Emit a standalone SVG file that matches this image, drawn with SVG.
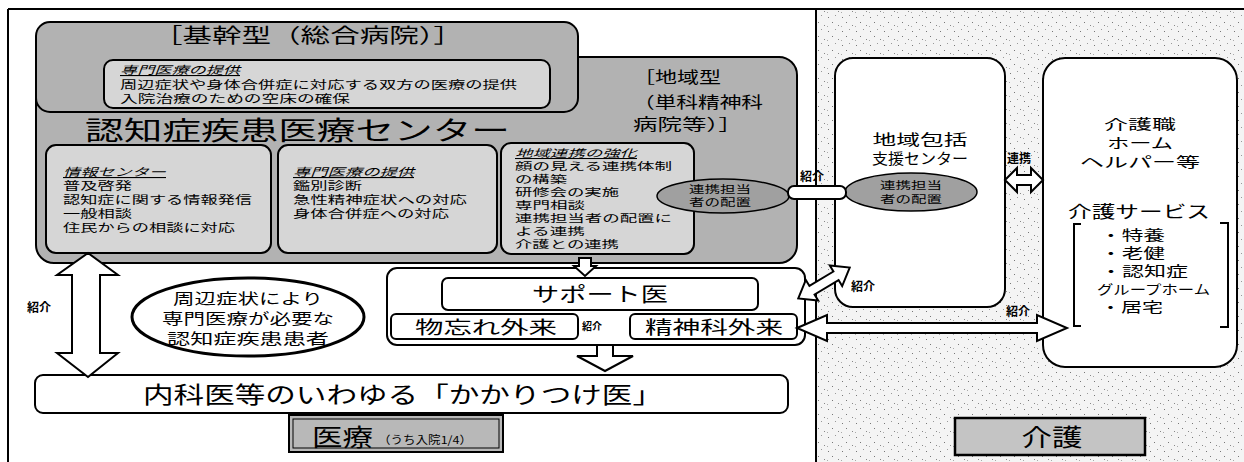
<svg xmlns="http://www.w3.org/2000/svg" width="1244" height="462" viewBox="0 0 1244 462">
<defs>
<pattern id="stip" width="14" height="14" patternUnits="userSpaceOnUse">
<rect width="14" height="14" fill="#f4f4f4"/>
<rect x="2" y="3" width="1" height="1" fill="#777"/>
<rect x="9" y="1" width="1" height="1" fill="#999"/>
<rect x="6" y="8" width="1" height="1" fill="#777"/>
<rect x="12" y="11" width="1" height="1" fill="#888"/>
<rect x="1" y="12" width="1" height="1" fill="#aaa"/>
</pattern>
<style>
text{font-family:"Noto Sans CJK JP","Noto Sans CJK SC",sans-serif;fill:#000;}
.bx{stroke:#000;stroke-width:2;}
.dk{fill:#b2b2b2;}
.lt{fill:#d6d6d6;}
.wh{fill:#fff;}
.el{fill:#a0a0a0;stroke:#000;stroke-width:1.5;}
.ar{fill:#fff;stroke:#000;stroke-width:2;stroke-linejoin:miter;}
.s{font-size:11px;}
.u{font-style:italic;text-decoration:underline;}
.lb{font-size:12px;font-weight:bold;}
.m{font-size:14px;}
.c{text-anchor:middle;}
</style>
</defs>
<rect x="0" y="0" width="1244" height="462" fill="#fff"/>
<rect x="817" y="9" width="427" height="453" fill="url(#stip)"/>
<g id="frame" fill="none" stroke="#000">
<line x1="8" y1="9" x2="1244" y2="9" stroke-width="2"/>
<line x1="8" y1="9" x2="8" y2="462" stroke-width="2"/>
<line x1="816" y1="9" x2="816" y2="462" stroke-width="2"/>
</g>

<g id="chiiki">
<rect class="bx dk" x="36" y="57" width="761" height="206" rx="18"/>
<text font-size="16"><tspan x="633" y="83" textLength="88" lengthAdjust="spacingAndGlyphs">［地域型</tspan><tspan x="633" y="108" textLength="130" lengthAdjust="spacingAndGlyphs">（単科精神科</tspan><tspan x="633" y="130" textLength="110" lengthAdjust="spacingAndGlyphs">病院等）］</tspan></text>
</g>
<g id="kikan">
<rect class="bx dk" x="36" y="22" width="542" height="90" rx="14"/>
<text x="153" y="43" font-size="20" textLength="310" lengthAdjust="spacingAndGlyphs">［基幹型（総合病院）］</text>
<rect class="bx lt" x="104" y="60" width="446" height="48" rx="9"/>
<text class="s"><tspan class="u" x="120" y="74" textLength="120" lengthAdjust="spacingAndGlyphs">専門医療の提供</tspan><tspan x="120" y="89" textLength="397" lengthAdjust="spacingAndGlyphs">周辺症状や身体合併症に対応する双方の医療の提供</tspan><tspan x="120" y="103" textLength="230" lengthAdjust="spacingAndGlyphs">入院治療のための空床の確保</tspan></text>
</g>
<g id="center-title">
<text x="85" y="140" font-size="26" textLength="425" lengthAdjust="spacingAndGlyphs">認知症疾患医療センター</text>
</g>
<g id="joho">
<rect class="bx lt" x="46" y="145" width="225" height="108" rx="10"/>
<text class="s"><tspan class="u" x="63" y="176" textLength="103" lengthAdjust="spacingAndGlyphs">情報センター</tspan><tspan x="63" y="190" textLength="69" lengthAdjust="spacingAndGlyphs">普及啓発</tspan><tspan x="63" y="204" textLength="189" lengthAdjust="spacingAndGlyphs">認知症に関する情報発信</tspan><tspan x="63" y="218" textLength="69" lengthAdjust="spacingAndGlyphs">一般相談</tspan><tspan x="63" y="232" textLength="172" lengthAdjust="spacingAndGlyphs">住民からの相談に対応</tspan></text>
</g>
<g id="senmon">
<rect class="bx lt" x="278" y="145" width="219" height="108" rx="10"/>
<text class="s"><tspan class="u" x="293" y="176" textLength="121" lengthAdjust="spacingAndGlyphs">専門医療の提供</tspan><tspan x="293" y="190" textLength="69" lengthAdjust="spacingAndGlyphs">鑑別診断</tspan><tspan x="293" y="204" textLength="174" lengthAdjust="spacingAndGlyphs">急性精神症状への対応</tspan><tspan x="293" y="218" textLength="156" lengthAdjust="spacingAndGlyphs">身体合併症への対応</tspan></text>
</g>
<g id="renkei-kyoka">
<rect class="bx lt" x="501" y="143" width="193" height="111" rx="10"/>
<text font-size="10.5px"><tspan class="u" x="515" y="157" textLength="122" lengthAdjust="spacingAndGlyphs">地域連携の強化</tspan><tspan x="515" y="170" textLength="157" lengthAdjust="spacingAndGlyphs">顔の見える連携体制</tspan><tspan x="515" y="183" textLength="52" lengthAdjust="spacingAndGlyphs">の構築</tspan><tspan x="515" y="196" textLength="104" lengthAdjust="spacingAndGlyphs">研修会の実施</tspan><tspan x="515" y="209" textLength="70" lengthAdjust="spacingAndGlyphs">専門相談</tspan><tspan x="515" y="222" textLength="157" lengthAdjust="spacingAndGlyphs">連携担当者の配置に</tspan><tspan x="515" y="235" textLength="70" lengthAdjust="spacingAndGlyphs">よる連携</tspan><tspan x="515" y="248" textLength="104" lengthAdjust="spacingAndGlyphs">介護との連携</tspan></text>
</g>
<g id="tanto-1">
<ellipse class="el" cx="723" cy="196" rx="66" ry="17"/>
<text class="c" font-size="10.5"><tspan x="720" y="193" textLength="62" lengthAdjust="spacingAndGlyphs">連携担当</tspan><tspan x="720" y="206" textLength="62" lengthAdjust="spacingAndGlyphs">者の配置</tspan></text>
</g>

<g id="kanja">
<ellipse cx="248" cy="317" rx="116" ry="39" fill="#fff" stroke="#000" stroke-width="3"/>
<text class="c" font-size="14.5"><tspan x="248" y="304" textLength="150" lengthAdjust="spacingAndGlyphs">周辺症状により</tspan><tspan x="248" y="324" textLength="172" lengthAdjust="spacingAndGlyphs">専門医療が必要な</tspan><tspan x="248" y="344" textLength="162" lengthAdjust="spacingAndGlyphs">認知症疾患患者</tspan></text>
</g>
<g id="support-group">
<rect class="bx wh" x="387" y="268" width="418" height="77" rx="10"/>
</g>
<g id="support">
<rect class="bx wh" x="442" y="278" width="316" height="32" rx="6"/>
<text class="c" x="600" y="302" font-size="20" textLength="136" lengthAdjust="spacingAndGlyphs">サポート医</text>
</g>
<g id="monowasure">
<rect class="bx wh" x="391" y="314" width="187" height="25" rx="5"/>
<text class="c" x="486" y="334" font-size="18" textLength="142" lengthAdjust="spacingAndGlyphs">物忘れ外来</text>
</g>
<g id="seishin">
<rect class="bx wh" x="630" y="314" width="167" height="25" rx="5"/>
<text class="c" x="714" y="334" font-size="18" textLength="138" lengthAdjust="spacingAndGlyphs">精神科外来</text>
</g>
<g id="kakaritsuke">
<rect class="bx wh" x="35" y="375" width="753" height="38" rx="8"/>
<text x="143" y="403" font-size="23" textLength="520" lengthAdjust="spacingAndGlyphs">内科医等のいわゆる「かかりつけ医」</text>
</g>
<g id="iryo-label">
<rect x="289" y="415" width="214" height="37" fill="#b8b8b8" stroke="#000" stroke-width="2"/>
<rect x="293" y="419" width="206" height="29" fill="none" stroke="#000" stroke-width="1"/>
<text><tspan x="312" y="446" font-size="24" textLength="61" lengthAdjust="spacingAndGlyphs">医療</tspan><tspan x="378" y="444" font-size="11" textLength="94" lengthAdjust="spacingAndGlyphs">（うち入院1/4）</tspan></text>
</g>

<g id="hokatsu">
<rect class="bx wh" x="835" y="58" width="170" height="249" rx="18"/>
<text class="c" font-size="15"><tspan x="920" y="145" textLength="95" lengthAdjust="spacingAndGlyphs">地域包括</tspan><tspan x="920" y="164" textLength="96" lengthAdjust="spacingAndGlyphs">支援センター</tspan></text>
</g>
<g id="tanto-2">
<ellipse class="el" cx="911" cy="192" rx="66" ry="19"/>
<text class="c" font-size="10.5"><tspan x="911" y="189" textLength="62" lengthAdjust="spacingAndGlyphs">連携担当</tspan><tspan x="911" y="203" textLength="62" lengthAdjust="spacingAndGlyphs">者の配置</tspan></text>
</g>
<g id="kaigo-shoku">
<rect class="bx wh" x="1043" y="58" width="194" height="309" rx="22"/>
<text class="c" font-size="14"><tspan x="1140" y="129" textLength="72" lengthAdjust="spacingAndGlyphs">介護職</tspan><tspan x="1140" y="148" textLength="66" lengthAdjust="spacingAndGlyphs">ホーム</tspan><tspan x="1140" y="167" textLength="120" lengthAdjust="spacingAndGlyphs">ヘルパー等</tspan></text>
<path d="M1081,224 H1074 V326 H1081" fill="none" stroke="#000" stroke-width="2"/>
<path d="M1220,223 H1228 V327 H1220" fill="none" stroke="#000" stroke-width="2"/>
<text><tspan x="1068" y="218" font-size="16.5" textLength="142" lengthAdjust="spacingAndGlyphs">介護サービス</tspan><tspan class="m" x="1100" y="240" textLength="65" lengthAdjust="spacingAndGlyphs">・特養</tspan><tspan class="m" x="1100" y="258" textLength="65" lengthAdjust="spacingAndGlyphs">・老健</tspan><tspan class="m" x="1100" y="276" textLength="88" lengthAdjust="spacingAndGlyphs">・認知症</tspan><tspan x="1097" y="294" font-size="13" textLength="113" lengthAdjust="spacingAndGlyphs">グループホーム</tspan><tspan class="m" x="1100" y="312" textLength="63" lengthAdjust="spacingAndGlyphs">・居宅</tspan></text>
</g>
<g id="kaigo-label">
<rect x="955" y="418" width="190" height="37" fill="#c4c4c4" stroke="#000" stroke-width="2.5"/>
<text class="c" x="1052" y="446" font-size="24" textLength="61" lengthAdjust="spacingAndGlyphs">介護</text>
</g>

<g id="connectors">
<polygon class="ar" points="88,253 118,275 100,275 100,353 118,353 88,377 57,353 72,353 72,275 57,275"/>
<text class="lb" x="27" y="312">紹介</text>
<polygon class="ar" points="579,258 591,258 591,266 596,266 585,276 574,266 579,266"/>
<polygon class="ar" points="597,345 613,345 613,356 633,356 605,371 577,356 597,356"/>
<text x="582" y="330" font-size="10" font-weight="bold">紹介</text>
<rect class="ar" x="788" y="186" width="58" height="13" rx="6"/>
<text class="lb" x="800" y="181">紹介</text>
<polygon class="ar" transform="translate(824,283) rotate(-31)" points="-30,0 -14,-12 -14,-5 14,-5 14,-12 30,0 14,12 14,5 -14,5 -14,12"/>
<text class="lb" x="851" y="291">紹介</text>
<polygon class="ar" points="1005,180 1017,168 1017,175 1031,175 1031,168 1043,180 1031,192 1031,185 1017,185 1017,192"/>
<text class="lb" x="1007" y="163">連携</text>
<polygon class="ar" points="797,328 827,315 827,323 1037,323 1037,315 1067,328 1037,341 1037,333 827,333 827,341"/>
<text class="lb" x="1006" y="316">紹介</text>
</g>
</svg>
